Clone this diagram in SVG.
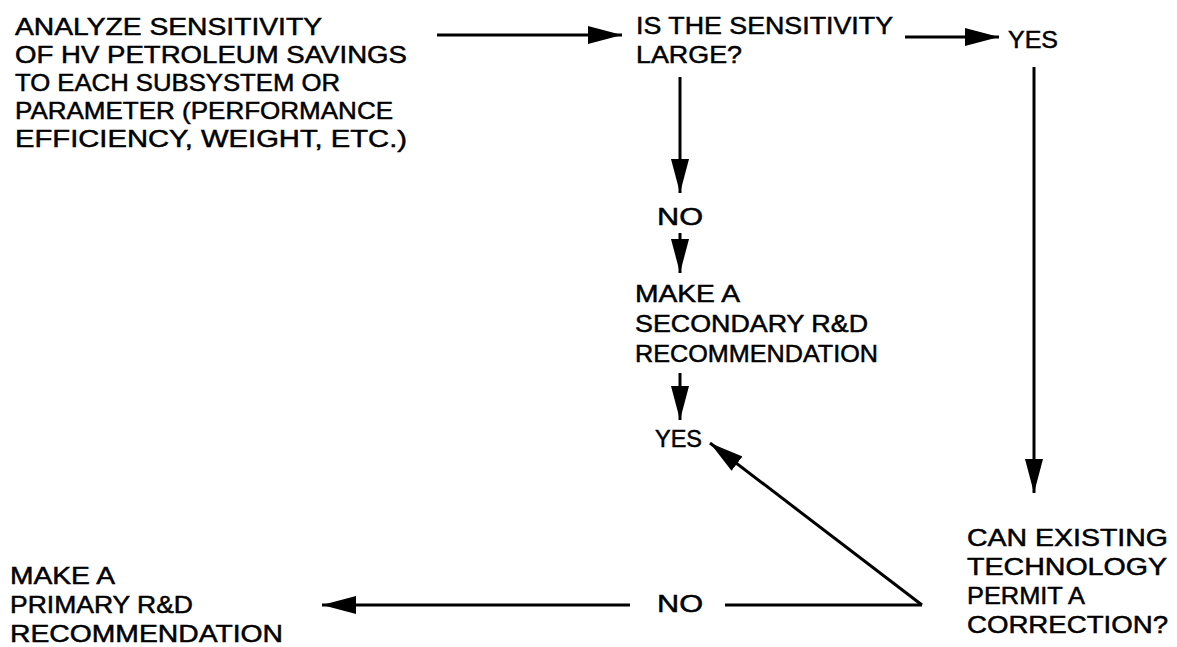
<svg xmlns="http://www.w3.org/2000/svg" width="1177" height="647" viewBox="0 0 1177 647">
  <style>
    text { font-family: "Liberation Sans", Arial, sans-serif; font-size: 24.5px; fill: #000; stroke: #000; stroke-width: 0.5px; }
    .c { stroke: #000; stroke-width: 3; fill: none; marker-end: url(#ah); }
    .p { stroke: #000; stroke-width: 3; fill: none; }
  </style>
  <defs>
    <marker id="ah" markerUnits="userSpaceOnUse" markerWidth="36" markerHeight="20" refX="34" refY="9" orient="auto">
      <path d="M0,0 L34,9 L0,18 z" fill="#000"/>
    </marker>
  </defs>
  <rect width="1177" height="647" fill="#fff"/>

  <g id="analyze">
    <text x="15" y="35" textLength="307" lengthAdjust="spacingAndGlyphs">ANALYZE SENSITIVITY</text>
    <text x="15" y="63" textLength="392" lengthAdjust="spacingAndGlyphs">OF HV PETROLEUM SAVINGS</text>
    <text x="15" y="91" textLength="325" lengthAdjust="spacingAndGlyphs">TO EACH SUBSYSTEM OR</text>
    <text x="15" y="119" textLength="378" lengthAdjust="spacingAndGlyphs">PARAMETER (PERFORMANCE</text>
    <text x="15" y="147" textLength="392" lengthAdjust="spacingAndGlyphs">EFFICIENCY, WEIGHT, ETC.)</text>
  </g>

  <g id="question-large">
    <text x="636" y="34" textLength="257" lengthAdjust="spacingAndGlyphs">IS THE SENSITIVITY</text>
    <text x="636" y="63" textLength="106" lengthAdjust="spacingAndGlyphs">LARGE?</text>
  </g>

  <g id="yes-top">
    <text x="1008" y="48" textLength="50" lengthAdjust="spacingAndGlyphs">YES</text>
  </g>

  <g id="no-middle">
    <text x="657" y="225" textLength="46" lengthAdjust="spacingAndGlyphs">NO</text>
  </g>

  <g id="secondary">
    <text x="635" y="302" textLength="105" lengthAdjust="spacingAndGlyphs">MAKE A</text>
    <text x="635" y="332" textLength="233" lengthAdjust="spacingAndGlyphs">SECONDARY R&amp;D</text>
    <text x="635" y="362" textLength="243" lengthAdjust="spacingAndGlyphs">RECOMMENDATION</text>
  </g>

  <g id="yes-middle">
    <text x="655" y="447" textLength="47" lengthAdjust="spacingAndGlyphs">YES</text>
  </g>

  <g id="existing-tech">
    <text x="967" y="546" textLength="201" lengthAdjust="spacingAndGlyphs">CAN EXISTING</text>
    <text x="967" y="575" textLength="200" lengthAdjust="spacingAndGlyphs">TECHNOLOGY</text>
    <text x="967" y="604" textLength="118" lengthAdjust="spacingAndGlyphs">PERMIT A</text>
    <text x="967" y="633" textLength="201" lengthAdjust="spacingAndGlyphs">CORRECTION?</text>
  </g>

  <g id="no-bottom">
    <text x="657" y="612" textLength="46" lengthAdjust="spacingAndGlyphs">NO</text>
  </g>

  <g id="primary">
    <text x="10" y="584" textLength="105" lengthAdjust="spacingAndGlyphs">MAKE A</text>
    <text x="10" y="613" textLength="183" lengthAdjust="spacingAndGlyphs">PRIMARY R&amp;D</text>
    <text x="10" y="642" textLength="273" lengthAdjust="spacingAndGlyphs">RECOMMENDATION</text>
  </g>

  <g id="connectors">
    <line class="c" x1="437" y1="35" x2="622" y2="35"/>
    <line class="c" x1="905" y1="37" x2="999" y2="37"/>
    <line class="c" x1="1034" y1="67" x2="1034" y2="493"/>
    <line class="c" x1="680" y1="77" x2="680" y2="193"/>
    <line class="c" x1="680" y1="233" x2="680" y2="273"/>
    <line class="c" x1="680" y1="373" x2="680" y2="420"/>
    <line class="c" x1="922" y1="605" x2="710" y2="443"/>
    <line class="p" x1="922" y1="605" x2="725" y2="605"/>
    <line class="c" x1="630" y1="605" x2="322" y2="605"/>
  </g>
</svg>
